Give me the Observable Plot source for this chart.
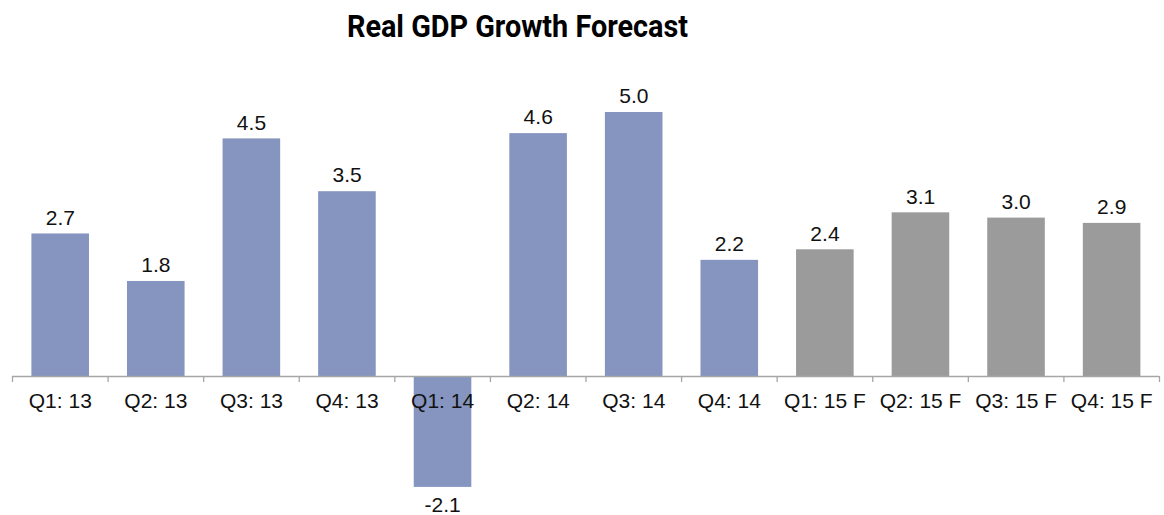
<!DOCTYPE html>
<html>
<head>
<meta charset="utf-8">
<script src="https://cdn.jsdelivr.net/npm/d3@7"></script>
<script src="https://cdn.jsdelivr.net/npm/@observablehq/plot@0.6"></script>
<style>
  html, body { margin: 0; padding: 0; background: #fff; }
  #title {
    width: 1034px; height: 50px; padding-top: 10px;
    text-align: center;
    font-family: Roboto, "Liberation Sans", sans-serif;
    font-weight: bold; font-size: 32px; line-height: 32px; color: #000;
  }
  #title span { display: inline-block; transform-origin: 50% 50%; white-space: nowrap; }
  svg { display: block; }
</style>
</head>
<body>
<div id="title"><span>Real GDP Growth Forecast</span></div>
<div id="chart"></div>
<script>
const quarters = ["Q1: 13", "Q2: 13", "Q3: 13", "Q4: 13", "Q1: 14", "Q2: 14",
                  "Q3: 14", "Q4: 14", "Q1: 15 F", "Q2: 15 F", "Q3: 15 F", "Q4: 15 F"];
const growth = [2.7, 1.8, 4.5, 3.5, -2.1, 4.6, 5.0, 2.2, 2.4, 3.1, 3.0, 2.9];
const seriesType = ["Actual", "Actual", "Actual", "Actual", "Actual", "Actual",
                    "Actual", "Actual", "Forecast", "Forecast", "Forecast", "Forecast"];

const rows = quarters.map((label, i) => ({i, label, value: growth[i], type: seriesType[i]}));
const boundaries = d3.range(quarters.length + 1);

const font = "'Liberation Sans', Arial, sans-serif";
const axisColor = "#a6a6a6";

// condense the title to the reference's narrow width
const titleSpan = document.querySelector("#title span");
const titleW = titleSpan.getBoundingClientRect().width;
titleSpan.style.transform = `scaleX(${341 / titleW})`;

const chart = Plot.plot({
  width: 1164,
  height: 455,
  marginLeft: 12,
  marginRight: 5,
  marginTop: 0,
  marginBottom: 0,
  x: {domain: [0, quarters.length], axis: null},
  y: {domain: [-2.1, 5.0], range: [426.9, 52], axis: null},
  color: {domain: ["Actual", "Forecast"], range: ["#8595bf", "#9b9b9b"]},
  marks: [
    Plot.rectY(rows, {x1: d => d.i, x2: d => d.i + 1, y: "value", fill: "type",
                      insetLeft: 19.4, insetRight: 18.6}),
    Plot.ruleY([0], {stroke: axisColor, strokeWidth: 1.3}),
    Plot.ruleX(boundaries, {x: d => d, y1: 0, y2: 0, insetBottom: -6,
                            stroke: axisColor, strokeWidth: 1.3}),
    Plot.text(rows, {x: d => d.i + 0.5, y: 0, text: "label", dy: 25,
                     fontSize: 21, fontFamily: font, fill: "#111"}),
    Plot.text(rows.filter(d => d.value >= 0), {x: d => d.i + 0.5, y: "value",
                     text: d => d.value.toFixed(1), dy: -16,
                     fontSize: 21, fontFamily: font, fill: "#111"}),
    Plot.text(rows.filter(d => d.value < 0), {x: d => d.i + 0.5, y: "value",
                     text: d => d.value.toFixed(1), dy: 18,
                     fontSize: 21, fontFamily: font, fill: "#111"})
  ]
});
document.getElementById("chart").appendChild(chart);
</script>
</body>
</html>
